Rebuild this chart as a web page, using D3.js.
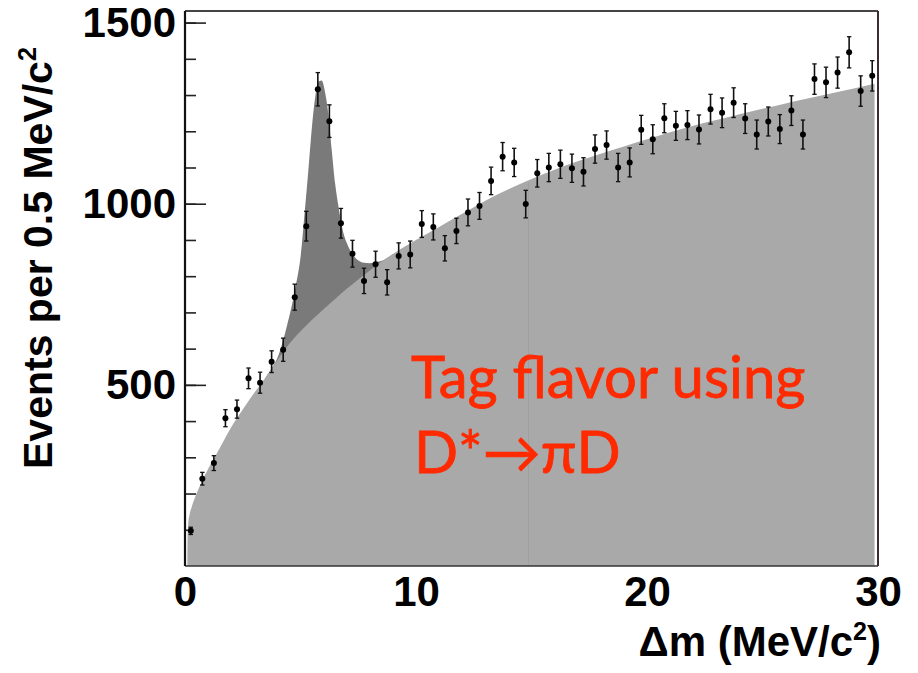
<!DOCTYPE html>
<html>
<head>
<meta charset="utf-8">
<script src="https://cdn.jsdelivr.net/npm/d3@7/dist/d3.min.js"></script>
<style>
  html, body { margin: 0; padding: 0; background: #ffffff; }
  svg { display: block; }
</style>
</head>
<body>
<svg id="chart" width="918" height="673"></svg>
<script>
// Δm distribution: data points with errors, fitted background and signal+background
const binCenters = [0.25, 0.75, 1.25, 1.75, 2.25, 2.75, 3.25, 3.75, 4.25, 4.75,
  5.25, 5.75, 6.25, 6.75, 7.25, 7.75, 8.25, 8.75, 9.25, 9.75,
  10.25, 10.75, 11.25, 11.75, 12.25, 12.75, 13.25, 13.75, 14.25, 14.75,
  15.25, 15.75, 16.25, 16.75, 17.25, 17.75, 18.25, 18.75, 19.25, 19.75,
  20.25, 20.75, 21.25, 21.75, 22.25, 22.75, 23.25, 23.75, 24.25, 24.75,
  25.25, 25.75, 26.25, 26.75, 27.25, 27.75, 28.25, 28.75, 29.25, 29.75];

const counts = [97, 241, 284, 408, 433, 518, 506, 564, 597, 742,
  938, 1316, 1228, 946, 862, 787, 833, 783, 856, 860,
  944, 936, 877, 925, 976, 994, 1063, 1130, 1114, 999,
  1084, 1100, 1109, 1098, 1088, 1151, 1162, 1100, 1114, 1204,
  1178, 1236, 1215, 1217, 1205, 1261, 1251, 1279, 1235, 1191,
  1227, 1206, 1257, 1191, 1344, 1335, 1362, 1418, 1311, 1353];

const errors = [10, 17.5, 20.5, 23.5, 25, 28.5, 29, 30, 32, 36,
  41, 46, 45, 41, 37, 35, 36, 35, 36, 37,
  37, 36, 35, 35, 37, 37, 38, 39, 39, 38,
  38, 39, 39, 39, 39, 39, 39, 39, 40, 40,
  40, 40, 40, 40, 40, 41, 41, 41, 41, 40,
  40, 40, 41, 40, 42, 42, 43, 43, 42, 42];

// background fit curve: [Δm, events]
const backgroundCurve = [
  [0.1, 0], [0.11, 70], [0.14, 115], [0.2, 142], [0.3, 165], [0.5, 200],
  [0.75, 237], [1.0, 268], [1.25, 296], [1.5, 325], [2.0, 383], [2.5, 432],
  [3.0, 478], [3.5, 522], [4.0, 568], [4.5, 612], [5.0, 648], [5.5, 680],
  [6.0, 709], [6.5, 737], [7.0, 765], [7.5, 791], [8.0, 816], [8.5, 840],
  [9.0, 861], [9.5, 881], [10.0, 900], [11.0, 936], [12.0, 972], [13.0, 1008],
  [14.0, 1040], [15.0, 1068], [16.0, 1094], [17.0, 1117], [18.0, 1138],
  [19.0, 1158], [20.0, 1178], [21.0, 1197], [22.0, 1215], [23.0, 1231],
  [24.0, 1247], [25.0, 1262], [26.0, 1277], [27.0, 1291], [28.0, 1305],
  [29.0, 1319], [29.85, 1331]];

// signal + background fit curve around the D* peak
const totalCurve = [
  [3.5, 522], [3.8, 550], [4.0, 574], [4.2, 612], [4.4, 660], [4.6, 712],
  [4.8, 775], [5.0, 852], [5.2, 990], [5.35, 1100], [5.5, 1215], [5.65, 1300],
  [5.8, 1338], [5.92, 1340], [6.05, 1312], [6.2, 1250], [6.35, 1150],
  [6.5, 1055], [6.65, 990], [6.8, 935], [7.0, 892], [7.2, 866], [7.45, 846],
  [7.75, 837], [8.0, 836], [8.3, 840], [8.5, 842], [9.0, 861]];

const fillSeams = [14.87];

const yMinorTicks = [100, 200, 300, 400, 500, 600, 700, 800, 900, 1000, 1100, 1200, 1300, 1400, 1500];
const yMajorTicks = [500, 1000, 1500];
const xTicks = [0, 10, 20, 30];

const svg = d3.select("#chart");
const x = d3.scaleLinear().domain([0, 30]).range([185, 878]);
const y = d3.scaleLinear().domain([0, 1532]).range([566, 11]);

const axisFont = "'Liberation Sans', Arial, Helvetica, sans-serif";

// inward tick marks on the left axis
svg.append("g")
  .attr("transform", `translate(${x(0)},0)`)
  .call(d3.axisLeft(y).tickValues(yMinorTicks).tickSize(-11).tickFormat(""))
  .call(g => g.select(".domain").remove())
  .call(g => g.selectAll("line").attr("stroke", "#222").attr("stroke-width", 1.6));

svg.append("g")
  .attr("transform", `translate(${x(0)},0)`)
  .call(d3.axisLeft(y).tickValues(yMajorTicks).tickSize(-21).tickFormat(""))
  .call(g => g.select(".domain").remove())
  .call(g => g.selectAll("line").attr("stroke", "#222").attr("stroke-width", 1.6));

// filled fit curves
const area = d3.area()
  .x(d => x(d[0]))
  .y0(y(0))
  .y1(d => y(d[1]))
  .curve(d3.curveMonotoneX);

svg.append("path").datum(totalCurve).attr("d", area).attr("fill", "#7a7a7a");
svg.append("path").datum(backgroundCurve).attr("d", area).attr("fill", "#a9a9a9");

// thin seam between fill segments
fillSeams.forEach(s => {
  const i = d3.bisector(d => d[0]).left(backgroundCurve, s);
  const a = backgroundCurve[i - 1], b = backgroundCurve[i];
  const v = a[1] + (b[1] - a[1]) * (s - a[0]) / (b[0] - a[0]);
  svg.append("line")
    .attr("x1", x(s)).attr("x2", x(s))
    .attr("y1", y(0)).attr("y2", y(v) + 2)
    .attr("stroke", "#9f9f9f").attr("stroke-width", 1);
});

// data points with error bars
const pts = binCenters.map((c, i) => ({ c, v: counts[i], e: errors[i] }));
const gp = svg.append("g");
gp.selectAll("line.bar").data(pts).join("line")
  .attr("class", "bar")
  .attr("x1", d => x(d.c)).attr("x2", d => x(d.c))
  .attr("y1", d => y(d.v - d.e)).attr("y2", d => y(d.v + d.e))
  .attr("stroke", "#111").attr("stroke-width", 1.6);
gp.selectAll("line.capTop").data(pts).join("line")
  .attr("class", "capTop")
  .attr("x1", d => x(d.c) - 2.2).attr("x2", d => x(d.c) + 2.2)
  .attr("y1", d => y(d.v + d.e)).attr("y2", d => y(d.v + d.e))
  .attr("stroke", "#111").attr("stroke-width", 1.3);
gp.selectAll("line.capBot").data(pts).join("line")
  .attr("class", "capBot")
  .attr("x1", d => x(d.c) - 2.2).attr("x2", d => x(d.c) + 2.2)
  .attr("y1", d => y(d.v - d.e)).attr("y2", d => y(d.v - d.e))
  .attr("stroke", "#111").attr("stroke-width", 1.3);
gp.selectAll("circle").data(pts).join("circle")
  .attr("cx", d => x(d.c)).attr("cy", d => y(d.v))
  .attr("r", 3).attr("fill", "#000");

// annotation
const note = svg.append("text")
  .attr("font-family", "Lato, 'Open Sans', sans-serif")
  .attr("font-size", 58)
  .attr("fill", "#ff2a00")
  .attr("stroke", "#ff2a00")
  .attr("stroke-width", 0.8);
note.append("tspan").attr("x", 411).attr("y", 398).text("Tag flavor using");
note.append("tspan").attr("x", 414).attr("y", 473).text("D*→πD");

// frame
svg.append("line").attr("x1", x(0)).attr("x2", x(30)).attr("y1", y(1532)).attr("y2", y(1532))
  .attr("stroke", "#444").attr("stroke-width", 2);
svg.append("line").attr("x1", x(30)).attr("x2", x(30)).attr("y1", y(1532)).attr("y2", y(0))
  .attr("stroke", "#3b2d2d").attr("stroke-width", 2);
svg.append("line").attr("x1", x(0)).attr("x2", x(30)).attr("y1", y(0)).attr("y2", y(0))
  .attr("stroke", "#333").attr("stroke-width", 1.6);
svg.append("line").attr("x1", x(0)).attr("x2", x(0)).attr("y1", y(1532)).attr("y2", y(0))
  .attr("stroke", "#111").attr("stroke-width", 2.2);

// tick labels
svg.append("g")
  .attr("transform", `translate(${x(0)},0)`)
  .call(d3.axisLeft(y).tickValues(yMajorTicks).tickSize(0).tickPadding(9).tickFormat(d3.format("d")))
  .call(g => g.select(".domain").remove())
  .call(g => g.selectAll("text")
    .attr("font-family", axisFont).attr("font-weight", "bold")
    .attr("font-size", 42).attr("fill", "#000"));

svg.append("g")
  .attr("transform", `translate(0,${y(0)})`)
  .call(d3.axisBottom(x).tickValues(xTicks).tickSize(0).tickPadding(10).tickFormat(d3.format("d")))
  .call(g => g.select(".domain").remove())
  .call(g => g.selectAll("text")
    .attr("font-family", axisFont).attr("font-weight", "bold")
    .attr("font-size", 42).attr("fill", "#000"));

// axis titles
const xt = svg.append("text")
  .attr("x", 881).attr("y", 656)
  .attr("text-anchor", "end")
  .attr("font-family", axisFont).attr("font-weight", "bold")
  .attr("font-size", 42).attr("fill", "#000");
xt.append("tspan").text("Δm (MeV/c");
xt.append("tspan").attr("font-size", 25).attr("dy", -16).text("2");
xt.append("tspan").attr("dy", 16).text(")");

const yt = svg.append("text")
  .attr("transform", "translate(52,469) rotate(-90)")
  .attr("font-family", axisFont).attr("font-weight", "bold")
  .attr("font-size", 41).attr("fill", "#000");
yt.append("tspan").text("Events per 0.5 MeV/c");
yt.append("tspan").attr("font-size", 25).attr("dy", -16).text("2");
</script>
</body>
</html>
